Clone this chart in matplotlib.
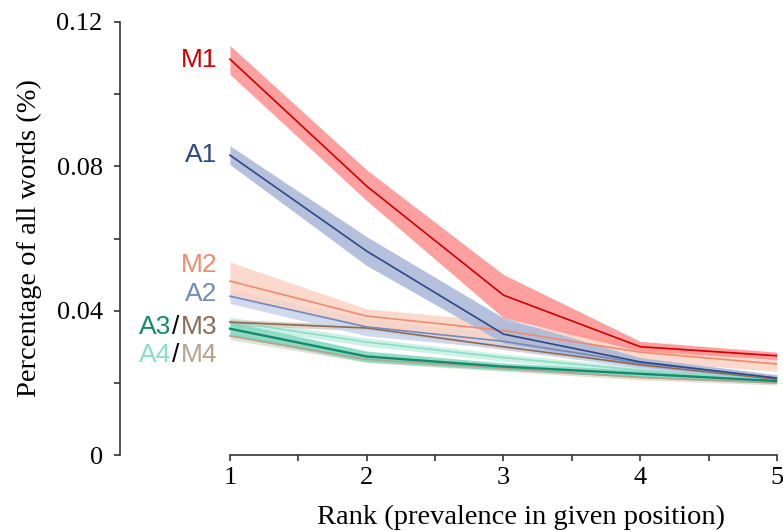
import matplotlib
matplotlib.use("Agg")
import matplotlib.pyplot as plt
import matplotlib.ticker as ticker

rank = [1, 2, 3, 4, 5]

# mean and shaded band (lo, hi) per group
m1 = [0.1097, 0.0745, 0.0443, 0.0300, 0.0275]
m1_lo = [0.1055, 0.0705, 0.0380, 0.0288, 0.0265]
m1_hi = [0.1135, 0.0790, 0.0500, 0.0315, 0.0285]

a1 = [0.0831, 0.0565, 0.0335, 0.0258, 0.0213]
a1_lo = [0.0805, 0.0525, 0.0310, 0.0245, 0.0205]
a1_hi = [0.0857, 0.0605, 0.0380, 0.0270, 0.0222]

m2 = [0.0482, 0.0385, 0.0345, 0.0285, 0.0252]
m2_lo = [0.0445, 0.0355, 0.0310, 0.0260, 0.0232]
m2_hi = [0.0535, 0.0405, 0.0370, 0.0310, 0.0278]

a2 = [0.0440, 0.0355, 0.0315, 0.0255, 0.0213]
a2_lo = [0.0420, 0.0330, 0.0295, 0.0240, 0.0205]
a2_hi = [0.0458, 0.0378, 0.0335, 0.0268, 0.0222]

m3 = [0.0368, 0.0352, 0.0300, 0.0250, 0.0210]
m3_lo = [0.0360, 0.0344, 0.0292, 0.0243, 0.0204]
m3_hi = [0.0376, 0.0360, 0.0308, 0.0257, 0.0216]

a3 = [0.0350, 0.0273, 0.0245, 0.0225, 0.0205]
a3_lo = [0.0330, 0.0258, 0.0235, 0.0215, 0.0198]
a3_hi = [0.0370, 0.0288, 0.0255, 0.0235, 0.0212]

a4 = [0.0370, 0.0313, 0.0270, 0.0235, 0.0208]
a4_lo = [0.0358, 0.0302, 0.0260, 0.0226, 0.0200]
a4_hi = [0.0382, 0.0324, 0.0280, 0.0244, 0.0216]

m4 = [0.0330, 0.0265, 0.0240, 0.0215, 0.0200]
m4_lo = [0.0320, 0.0256, 0.0232, 0.0208, 0.0194]
m4_hi = [0.0340, 0.0274, 0.0248, 0.0222, 0.0206]

yticks = [0, 0.04, 0.08, 0.12]
ytick_labels = ["0", "0.04", "0.08", "0.12"]

# (mean, lo, hi, line colour, band colour, line width) drawn bottom to top
series = [
    (m4, m4_lo, m4_hi, "#b3a38c", "#e3d9cc", 1.2),
    (a4, a4_lo, a4_hi, "#8ddcc6", "#c4efe3", 1.2),
    (m3, m3_lo, m3_hi, "#8c6b52", "#dacbbd", 1.2),
    (a3, a3_lo, a3_hi, "#138a6c", "#7ed6bd", 1.7),
    (a2, a2_lo, a2_hi, "#7489b8", "#c9d4ea", 1.2),
    (m2, m2_lo, m2_hi, "#f08b6e", "#fbd3c4", 1.2),
    (a1, a1_lo, a1_hi, "#2e4787", "#a8b6d6", 1.2),
    (m1, m1_lo, m1_hi, "#cc0000", "#ff8f8f", 1.2),
]

fig = plt.figure(figsize=(7.83, 5.31), dpi=100)
ax = fig.add_axes([120 / 783, 76 / 531, 657 / 783, 433 / 531])

for mean, lo, hi, lc, bc, lw in series:
    ax.fill_between(rank, lo, hi, color=bc, alpha=0.85, linewidth=0)
    ax.plot(rank, mean, color=lc, lw=lw)

ax.set_xlim(0.196, 5)
ax.set_ylim(0, 0.12)
for s in ["top", "right"]:
    ax.spines[s].set_visible(False)
ax.spines["bottom"].set_bounds(1, 5)
for s in ["left", "bottom"]:
    ax.spines[s].set_linewidth(1.2)
    ax.spines[s].set_color("#333333")

serif = "Liberation Serif"
ax.set_xticks(rank)
ax.set_xticklabels([str(r) for r in rank], family=serif, fontsize=19)
ax.xaxis.set_minor_locator(ticker.FixedLocator([1.5, 2.5, 3.5, 4.5]))
ax.set_yticks(yticks)
ax.set_yticklabels(ytick_labels, family=serif, fontsize=19)
ax.yaxis.set_minor_locator(ticker.FixedLocator([0.02, 0.06, 0.10]))
ax.tick_params(which="both", direction="out", length=4.5, width=1.2, color="#333333")
ax.tick_params(axis="y", which="both", pad=8)
ax.tick_params(axis="x", which="both", pad=4)
ax.set_xlabel("Rank (prevalence in given position)", family=serif, fontsize=20.5, labelpad=10)
ax.xaxis.set_label_coords(0.61, -0.115)
ax.set_ylabel("Percentage of all words (%)", family=serif, fontsize=20.5, labelpad=10)

sans = "Liberation Sans"
fs = 19
lab_kw = dict(textcoords="offset points", ha="right", va="center", family=sans, fontsize=fs)
ax.annotate("M1", xy=(1, 0.1095), xytext=(-9, 0), color="#cc0000", **lab_kw)
ax.annotate("A1", xy=(1, 0.0831), xytext=(-9, 0), color="#2e4787", **lab_kw)
ax.annotate("M2", xy=(1, 0.0527), xytext=(-9, 0), color="#f08b6e", **lab_kw)
ax.annotate("A2", xy=(1, 0.0447), xytext=(-9, 0), color="#7489b8", **lab_kw)

for y, left, right, lcol, rcol in [(0.0355, "A3", "M3", "#138a6c", "#8c6b52"),
                                   (0.0277, "A4", "M4", "#8ddcc6", "#b3a38c")]:
    t = ax.annotate(right, xy=(1, y), xytext=(-9, 0), color=rcol, **lab_kw)
    sl = ax.annotate("/", xy=(0, 0.5), xycoords=t, xytext=(-1, 0),
                     textcoords="offset points", ha="right", va="center",
                     family=sans, fontsize=fs, color="black")
    ax.annotate(left, xy=(0, 0.5), xycoords=sl, xytext=(-1, 0),
                textcoords="offset points", ha="right", va="center",
                family=sans, fontsize=fs, color=lcol)

fig.savefig("out.png", dpi=100)
